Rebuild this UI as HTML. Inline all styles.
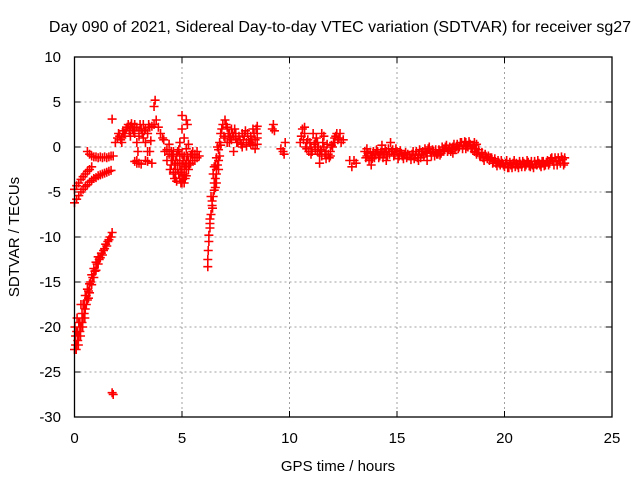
<!DOCTYPE html>
<html><head><meta charset="utf-8"><style>
html,body{margin:0;padding:0;background:#fff;}
svg{display:block;font-family:"Liberation Sans",sans-serif;}
</style></head><body>
<svg id="chart" width="640" height="480">
<text x="340" y="32" font-size="16" text-anchor="middle">Day 090 of 2021, Sidereal Day-to-day VTEC variation (SDTVAR) for receiver sg27</text>
<text x="338" y="471" font-size="15" text-anchor="middle">GPS time / hours</text>
<text transform="translate(19,237) rotate(-90)" font-size="15" text-anchor="middle">SDTVAR / TECUs</text>
<g id="grid"></g>
<g id="ticks"></g>
<g id="marks"></g>
<rect x="74.5" y="57" width="537.5" height="360" fill="none" stroke="#000" stroke-width="1.3"/>
</svg>
<script>
const xTicks=[0,5,10,15,20,25];
const yTicks=[10,5,0,-5,-10,-15,-20,-25,-30];
const hours=[0,0.05,0.1,0.15,0.2,0.25,0.3,0.35,0.4,0.45,0.5,0.55,0.6,0.65,0.7,0.75,0.8,0.85,0.9,0.95,1.0,1.05,1.1,1.15,1.2,1.3,1.35,1.4,1.5,1.55,1.6,1.7,1.75,0.02,0.08,0.12,0.18,0.28,0.38,0.48,0.3,
1.75,1.8,
0,0.1,0.2,0.3,0.4,0.5,0.6,0.7,0.8,0.9,1,1.1,1.2,1.3,1.4,1.5,1.6,1.7,
0,0.1,0.2,0.3,0.4,0.5,0.6,0.7,0.8,
0.6,0.7,0.8,0.9,1,1.1,1.2,1.3,1.4,1.5,1.6,1.7,1.8,1.75,
1.9,2,2.1,2.2,2.3,2.4,2.5,2.6,2.7,2.8,2.9,3,3.1,3.2,3.3,3.4,3.5,2.8,2.9,2.95,2.9,2.9,2.8,3,3.1,3.3,3.4,3.6,3.3,3.4,3.5,3.55,3.7,3.7,3.75,3.8,3.6,3.9,4,4.1,4.2,4.3,4.15,4.4,4.5,
4.5,4.6,4.7,4.8,4.9,5,5.1,5.2,5.3,5.4,5.5,5.6,5.7,5.8,4.6,4.7,4.8,4.9,5,5.1,5.2,4.9,5,5,5.1,5.2,5.25,5.3,4.6,4.75,5.05,5.15,4.8,4.55,5.35,5.45,
6.2,6.2,6.22,6.25,6.25,6.3,6.3,6.35,6.4,6.4,6.45,6.5,6.5,6.55,6.6,6.6,6.65,6.7,6.75,6.7,6.8,6.35,6.5,6.6,
6.8,6.9,7,7.1,7.2,7.3,7.4,7.5,7.6,7.7,7.8,7.9,8,8.1,8.2,8.3,8.4,8.5,8.5,7,7.2,7.4,7.5,7.8,8,8.2,8.4,
9.2,9.25,9.3,9.6,9.7,9.8,9.75,
10.5,10.6,10.7,10.8,10.9,11,11.1,11.2,11.3,11.4,11.5,11.6,11.7,11.8,11.9,12,12.1,12.2,12.3,12.4,12.5,11.3,11.5,11.2,10.8,10.7,11.6,12.1,11,11.4,
12.8,12.9,13,13.1,
13.5,13.6,13.7,13.8,13.9,14,14.1,14.2,14.3,14.4,14.5,14.6,14.7,14.8,14.9,15,15.1,15.2,15.3,15.4,13.8,14.5,13.6,14.3,
15.6,15.7,15.8,15.9,16,16.1,16.2,16.3,16.4,16.5,16.6,16.7,16.8,16.9,17,17.1,17.2,17.3,17.4,17.5,17.6,17.7,17.8,17.9,18,18.1,18.2,18.3,18.4,18.5,18.6,18.7,18.8,18.9,19,19.1,19.2,19.3,19.4,19.5,16,16.4,17,17.6,18.2,18.7,18.6,
19.6,19.7,19.8,19.9,20,20.1,20.2,20.3,20.4,20.5,20.6,20.7,20.8,20.9,21,21.1,21.2,21.3,21.4,21.5,21.6,21.7,21.8,21.9,22,22.1,22.2,22.3,22.4,22.5,22.6,22.7,22.8,22.75,
0.05,0.1,0.15,0.2,0.25,0.35,0.4,0.45,0.5,0.55,0.6,0.65,0.7,0.8,0.9,1.0,1.1,1.25,1.45,1.65,
2.05,2.15,2.25,2.35,2.45,2.55,2.65,2.75,3.05,3.15,3.25,3.45,2.2,2.6,3.0,3.2,
4.55,4.65,4.7,4.75,4.85,4.9,4.95,5,5.05,5.1,5.15,5.2,5.25,5.3,5.4,5.5,5.6,5.7,5.0,4.85,4.65,4.95,5.1,5.2,4.5,4.6,4.4,4.3,4.45,
6.3,6.42,6.55,6.45,6.55,6.6,6.7,6.65,6.75,
6.85,6.95,7.05,7.15,7.25,7.35,7.45,7.55,7.65,7.75,7.85,7.95,8.05,8.15,8.25,8.35,8.45,7.1,7.3,8.3,8.5,8.5,
10.55,10.65,10.75,10.85,10.95,11.05,11.15,11.25,11.35,11.45,11.55,11.65,11.75,11.85,11.95,12.05,12.15,12.25,12.35,11.7,11.9,11.5,
13.55,13.65,13.75,13.85,13.95,14.05,14.15,14.25,14.35,14.45,14.55,14.65,14.75,14.85,14.95,15.05,15.15,15.25,15.35,15.45,15.5,
15.65,15.75,15.85,15.95,16.05,16.15,16.25,16.35,16.45,16.55,16.65,16.75,16.85,16.95,17.05,17.15,17.25,17.35,17.45,17.55,17.65,17.75,17.85,17.95,18.05,18.15,18.25,18.35,18.45,18.55,18.65,18.75,18.85,18.95,19.05,19.15,19.25,19.35,19.45,19.55,
19.65,19.75,19.85,19.95,20.05,20.15,20.25,20.35,20.45,20.55,20.65,20.75,20.85,20.95,21.05,21.15,21.25,21.35,21.45,21.55,21.65,21.75,21.85,21.95,22.05,22.15,22.25,22.35,22.45,22.55,22.65,22.8];
const sdtvar=[-22.5,-21,-22,-20.5,-21,-19.5,-20,-18.5,-19,-17.5,-18,-16.5,-17,-16,-16.2,-15,-15.3,-14.5,-14.5,-13.8,-13.7,-13,-13,-12.5,-12.3,-12,-11.5,-11.3,-11,-10.5,-10.3,-10,-9.5,-20,-22.5,-19,-22,-21,-20,-19,-17.5,
-27.3,-27.5,
-6.2,-5.8,-5.4,-5,-4.7,-4.4,-4.2,-3.9,-3.7,-3.5,-3.4,-3.2,-3.1,-3,-2.9,-2.8,-2.7,-2.6,
-4.7,-4.3,-4,-3.6,-3.3,-3,-2.7,-2.5,-2.2,
-0.5,-0.8,-1,-1.1,-1.1,-1.2,-1.1,-1.2,-1.1,-1.2,-1.1,-1,-1,3.1,
0.5,1,1.2,1,1.5,2,2.5,2.3,2,2.5,2.2,1.8,2,2.5,2,1.5,2.2,1.5,0.5,-0.5,-1.5,-1.8,-1.6,-1.8,-1.9,-1.5,-1.6,-1.8,0.5,-0.5,-0.5,0.7,2.5,4.5,5.2,3,2.3,2.2,1.5,1.0,-0.5,-0.3,0.8,0.3,-0.5,
-2,-3,-3.5,-2.5,-3.5,-4,-3,-2.5,-1.5,-1,-0.5,-0.8,-1.2,-1,-1,-1.5,-0.5,-1,-2,-1,-0.2,0.5,2,3.5,1,3,2.5,0.3,-2.8,-3.8,-3.5,-2,-1.8,-0.8,-2,-0.8,
-13.3,-12.5,-11.5,-10.5,-9.8,-9,-8,-7.5,-6.5,-6,-5.5,-4.8,-4,-3.5,-3,-2.5,-2,-1.5,-1,-0.3,0.2,-5.5,-2.2,-4,
1.5,2.5,3,2.2,1.5,2,1.2,1,0.5,0.8,1.5,1.2,0.5,0.8,1.2,2,0.8,1.5,2.3,1,0.5,-0.5,1.5,0,0.1,0.3,-0.2,
2,2.5,1.8,-0.2,-0.5,0.5,-0.8,
0.5,2,1.5,0.5,-0.5,0,1.5,0.5,-0.5,-0.8,-1,0,-0.5,-0.8,-0.5,0,1,1.5,1,0.5,0.8,0.5,1.5,-0.3,-0.2,2.2,1.2,0.5,-0.8,-1.8,
-1.5,-2.2,-1.5,-1.8,
-0.5,-1,-1.5,-1,-0.5,-0.8,-0.5,-1,-0.3,-0.8,-0.5,-0.2,0.5,-0.3,-0.8,-0.5,-1,-0.7,-1.3,-0.6,-2,-1.5,-0.2,0.2,
-1,-0.8,-1.3,-0.5,-0.8,-1.2,-0.5,-0.2,-0.6,0,-1,-0.5,-0.3,-0.8,-0.5,0,-0.3,0.2,-0.3,-0.5,0,-0.3,0.3,0,0.5,0.2,0.5,0,0.3,-0.2,-0.5,-0.8,-0.3,-1,-1.2,-0.8,-1.3,-1.5,-1.2,-1.6,-1.5,-1.5,-0.9,-0.7,-0.2,0.3,0.5,
-1.8,-1.5,-2,-1.8,-2.2,-1.5,-2.3,-2,-1.8,-2.2,-2,-1.6,-2.2,-1.8,-2,-1.7,-2.2,-2,-1.6,-2,-1.8,-2.2,-1.6,-2,-1.5,-1.8,-1.2,-2,-1.5,-1.2,-1.8,-1.4,-1.2,-2,
-22,-20.5,-21.5,-19.5,-20.5,-19.5,-17.5,-18.5,-16.5,-17.5,-15.8,-16.8,-15.2,-14.2,-13.5,-12.8,-12.2,-11.8,-10.8,-10,
1.5,0.8,1.8,1.5,2.2,1.8,2.6,1.8,2.5,1.5,1.8,2.5,0.5,1.2,1.2,1.0,
-1.5,-2,-2.5,-1,-3,-2,-2.8,-3,-1.5,-2.2,-3.5,-1.5,-1,-2.5,-1.8,-1.5,-1.5,-0.5,-0.8,-0.3,-3.5,-4,-4,-3.2,-1,-0.5,-0.8,-1.5,-2.5,
-8.5,-6.8,-4.5,-3,-2,-1.2,-2.5,0,0.5,
2,1.2,2.5,1.5,1,1.5,2,0.5,1.2,0.3,0.8,1.8,1.5,0.5,0.8,1.5,2,0.5,0.8,0.2,1,0.3,
1.2,0.8,0,0.8,0.5,-0.5,0.3,1,0,-0.3,0.5,-0.8,0.3,-1.2,0.2,0.5,1.2,0.8,1.5,-1.3,-1.0,-0.5,
-1.2,-0.7,-0.6,-1.3,-1.2,-0.3,-1.2,-0.6,-1.2,-0.2,-1,-0.8,-0.5,-1,-0.2,-1.3,-0.4,-1,-0.8,-1.2,-0.8,
-1.4,-0.5,-0.9,-1.2,-0.3,-0.8,-1,-0.7,-0.2,-0.6,-0.3,-1,-0.8,-0.3,-0.7,-0.4,0,-0.5,0,-0.2,0.3,0,-0.2,0.5,-0.2,0.6,0.1,0.6,-0.2,0.2,-0.2,-0.6,-1,-0.6,-1.5,-1.1,-1,-1.2,-1.8,-1.3,
-2.1,-1.8,-1.5,-2,-1.8,-2.3,-1.7,-2.3,-1.5,-1.8,-2.3,-1.9,-1.6,-2.2,-1.5,-2.1,-1.6,-2.3,-1.9,-1.5,-2,-1.6,-2.1,-1.7,-2,-1.3,-1.6,-1.2,-2,-1.5,-1.1,-1.8];
const NS='http://www.w3.org/2000/svg';
const X0=74.5,X1=612,Y0=57,Y1=417;
function sx(v){return X0+(v-0)/(25-0)*(X1-X0);}
function sy(v){return Y0+(10-v)/(10-(-30))*(Y1-Y0);}
const grid=document.getElementById('grid'),ticks=document.getElementById('ticks'),marks=document.getElementById('marks');
function mk(tag,attrs,parent){const e=document.createElementNS(NS,tag);for(const k in attrs)e.setAttribute(k,attrs[k]);parent.appendChild(e);return e;}
xTicks.forEach(t=>{
  const x=sx(t);
  if(t>0&&t<25){const g=mk('line',{x1:x,x2:x,y1:Y0,y2:Y1,stroke:'#a0a0a0','stroke-dasharray':'2,3','stroke-width':1},grid);
  
  }
  const tk=mk('path',{d:`M${x},${Y1}v-6M${x},${Y0}v6`,stroke:'#000','stroke-width':1},ticks);
  
  
  const l=mk('text',{x:x,y:443,'font-size':15,'text-anchor':'middle'},ticks);l.textContent=t;
  
  
});
yTicks.forEach(t=>{
  const y=sy(t);
  if(t<10&&t>-30){const g=mk('line',{x1:X0,x2:X1,y1:y,y2:y,stroke:'#a0a0a0','stroke-dasharray':'2,3','stroke-width':1},grid);
  
  }
  const tk=mk('path',{d:`M${X0},${y}h6M${X1},${y}h-6`,stroke:'#000','stroke-width':1},ticks);
  
  
  const l=mk('text',{x:61,y:y+5,'font-size':15,'text-anchor':'end'},ticks);l.textContent=t;
  
  
});
let d='';
for(let i=0;i<hours.length;i++){const x=sx(hours[i]),y=sy(sdtvar[i]);d+=`M${x-4.5},${y}h9M${x},${y-4.5}v9`;}
const p=mk('path',{d:d,stroke:'#ff0000','stroke-width':1.6,fill:'none'},marks);


</script>
</body></html>
